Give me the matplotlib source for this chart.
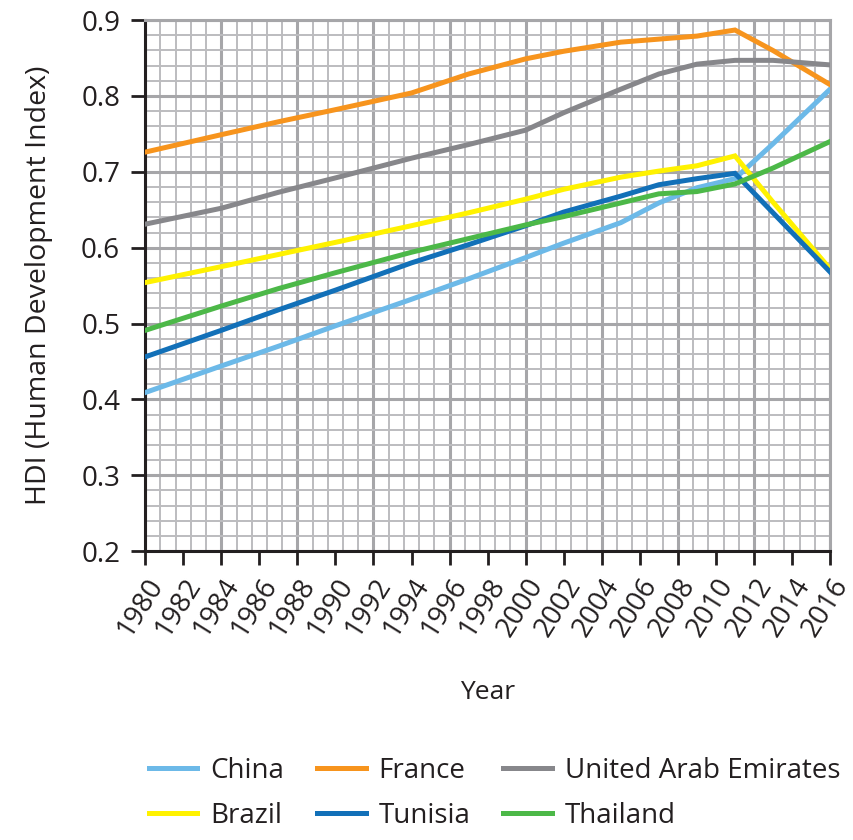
import matplotlib.pyplot as plt
import numpy as np

plt.rcParams['font.family'] = ['Open Sans', 'DejaVu Sans']

years = [1980, 1984, 1987, 1990, 1994, 1997, 2000, 2002, 2005, 2007, 2009, 2011, 2013, 2016]

china    = [0.409, 0.444, 0.470, 0.497, 0.532, 0.559, 0.587, 0.606, 0.633, 0.659, 0.679, 0.691, 0.737, 0.809]
france   = [0.726, 0.749, 0.766, 0.782, 0.804, 0.829, 0.849, 0.859, 0.871, 0.875, 0.879, 0.887, 0.860, 0.815]
uae      = [0.631, 0.652, 0.673, 0.692, 0.718, 0.736, 0.755, 0.778, 0.809, 0.829, 0.842, 0.847, 0.847, 0.841]
brazil   = [0.554, 0.575, 0.591, 0.607, 0.629, 0.646, 0.664, 0.677, 0.693, 0.701, 0.708, 0.721, 0.660, 0.572]
tunisia  = [0.456, 0.491, 0.518, 0.544, 0.580, 0.604, 0.629, 0.647, 0.668, 0.683, 0.691, 0.698, 0.646, 0.568]
thailand = [0.491, 0.523, 0.546, 0.567, 0.594, 0.612, 0.630, 0.641, 0.659, 0.671, 0.674, 0.684, 0.705, 0.740]

series = [
    ("China", china, "#6cb9e8"),
    ("France", france, "#f7941d"),
    ("United Arab Emirates", uae, "#87878b"),
    ("Brazil", brazil, "#fff200"),
    ("Tunisia", tunisia, "#1270b8"),
    ("Thailand", thailand, "#4cb848"),
]

ink = "#231f20"

fig = plt.figure(figsize=(8.54, 8.40), dpi=100)
ax = fig.add_axes([0.170, 0.344, 0.802, 0.632])

# graph-paper grid
for gx in np.arange(1980, 2016.01, 0.8):
    major = abs(round((gx - 1980) / 4) * 4 - (gx - 1980)) < 1e-6
    ax.axvline(gx, color="#a6a6a9" if major else "#bcbcbf", lw=2.2 if major else 1.4, zorder=0)
for gy in np.arange(0.2, 0.9001, 0.02):
    major = abs(round(gy * 10) - gy * 10) < 1e-6
    ax.axhline(gy, color="#a6a6a9" if major else "#bcbcbf", lw=2.2 if major else 1.4, zorder=0)

handles = {}
for name, vals, col in series:
    (ln,) = ax.plot(years, vals, color=col, lw=3.6, solid_joinstyle="miter", zorder=3)
    handles[name] = ln

ax.set_xlim(1980, 2016)
ax.set_ylim(0.2, 0.9)
ax.set_xticks(np.arange(1980, 2017, 2))
ax.set_yticks(np.arange(0.2, 0.91, 0.1))
ax.set_yticklabels([f"{v:.1f}" for v in np.arange(0.2, 0.91, 0.1)], fontsize=20, color=ink)
ax.set_xticklabels([str(y) for y in range(1980, 2017, 2)], fontsize=20, color=ink,
                   rotation=58, ha="right", va="top", rotation_mode="anchor")
ax.tick_params(axis="both", direction="out", length=10, width=2, color=ink)
ax.tick_params(axis="y", pad=8)
ax.tick_params(axis="x", pad=6)

for s in ["left", "bottom"]:
    ax.spines[s].set_color(ink)
    ax.spines[s].set_linewidth(2.2)
for s in ["top", "right"]:
    ax.spines[s].set_color("#a6a6a9")
    ax.spines[s].set_linewidth(2.2)

ax.set_xlabel("Year", fontsize=19, color=ink, labelpad=27)
ax.set_ylabel("HDI (Human Development Index)", fontsize=20.5, color=ink, labelpad=20)

order = ["China", "Brazil", "France", "Tunisia", "United Arab Emirates", "Thailand"]
fig.legend([handles[n] for n in order], order, loc="lower left", bbox_to_anchor=(0.145, -0.018),
           ncol=3, frameon=False, fontsize=20, handlelength=1.75, handletextpad=0.45,
           columnspacing=1.2, labelspacing=0.62, labelcolor=ink)

fig.savefig("out.png", dpi=100)
